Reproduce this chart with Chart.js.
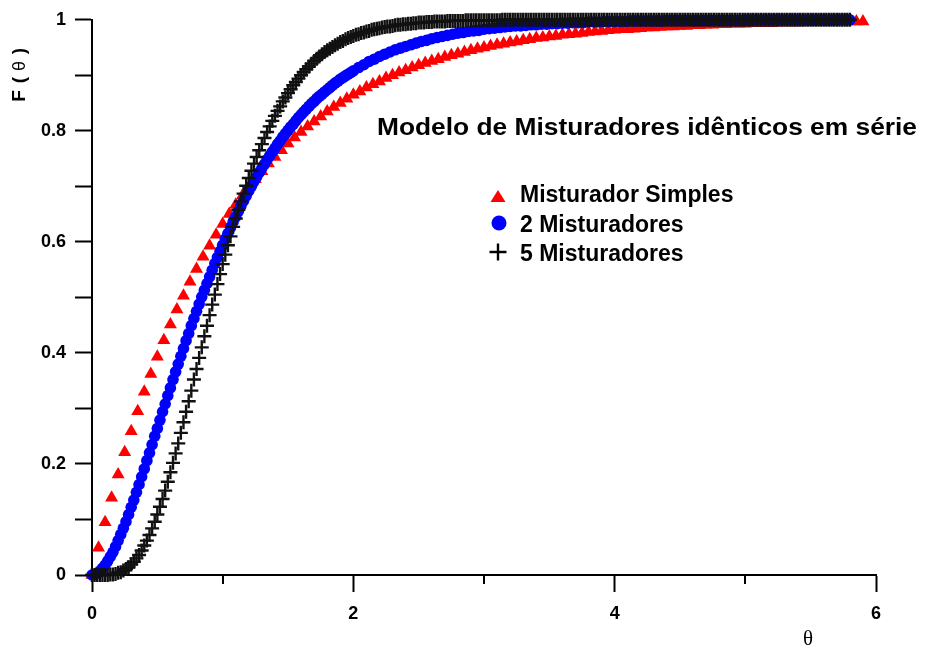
<!DOCTYPE html>
<html>
<head>
<meta charset="utf-8">
<title>Modelo de Misturadores idênticos em série</title>
<script src="https://cdn.jsdelivr.net/npm/chart.js@4.4.1/dist/chart.umd.min.js"></script>
<style>
    html, body { margin: 0; padding: 0; background: #fff; }
    #wrap { width: 928px; height: 652px; }
</style>
</head>
<body>
<div id="wrap"><canvas id="rtdChart" width="928" height="652"></canvas></div>
<script>
// DATA
const chartTitle = "Modelo de Misturadores idênticos em série";
const seriesNames = ["Misturador Simples", "2 Misturadores", "5 Misturadores"];
const xTickLabels = [0, 2, 4, 6];
const minorXTicks = [1, 3, 5];
const yTickLabels = [0, 0.2, 0.4, 0.6, 0.8, 1];

// single mixer, sampled every 0.05
const thetaSimple = [
    0,0.05,0.1,0.15,0.2,0.25,0.3,0.35,0.4,0.45,
    0.5,0.55,0.6,0.65,0.7,0.75,0.8,0.85,0.9,0.95,
    1,1.05,1.1,1.15,1.2,1.25,1.3,1.35,1.4,1.45,
    1.5,1.55,1.6,1.65,1.7,1.75,1.8,1.85,1.9,1.95,
    2,2.05,2.1,2.15,2.2,2.25,2.3,2.35,2.4,2.45,
    2.5,2.55,2.6,2.65,2.7,2.75,2.8,2.85,2.9,2.95,
    3,3.05,3.1,3.15,3.2,3.25,3.3,3.35,3.4,3.45,
    3.5,3.55,3.6,3.65,3.7,3.75,3.8,3.85,3.9,3.95,
    4,4.05,4.1,4.15,4.2,4.25,4.3,4.35,4.4,4.45,
    4.5,4.55,4.6,4.65,4.7,4.75,4.8,4.85,4.9,4.95,
    5,5.05,5.1,5.15,5.2,5.25,5.3,5.35,5.4,5.45,
    5.5,5.55,5.6,5.65,5.7,5.75,5.8,5.85,5.9
];
const fSimple = [
    0,0.049,0.095,0.139,0.181,0.221,0.259,0.295,0.330,0.362,
    0.393,0.423,0.451,0.478,0.503,0.528,0.551,0.573,0.593,0.613,
    0.632,0.650,0.667,0.683,0.699,0.713,0.727,0.741,0.753,0.765,
    0.777,0.788,0.798,0.808,0.817,0.826,0.835,0.843,0.850,0.858,
    0.865,0.871,0.878,0.884,0.889,0.895,0.900,0.905,0.909,0.914,
    0.918,0.922,0.926,0.929,0.933,0.936,0.939,0.942,0.945,0.948,
    0.950,0.953,0.955,0.957,0.959,0.961,0.963,0.965,0.967,0.968,
    0.970,0.971,0.973,0.974,0.975,0.976,0.978,0.979,0.980,0.981,
    0.982,0.983,0.983,0.984,0.985,0.986,0.986,0.987,0.988,0.988,
    0.989,0.989,0.990,0.990,0.991,0.991,0.992,0.992,0.993,0.993,
    0.993,0.994,0.994,0.994,0.994,0.995,0.995,0.995,0.995,0.996,
    0.996,0.996,0.996,0.996,0.997,0.997,0.997,0.997,0.997
];

// 2 mixers: every 0.02 up to 2, then every 0.04
const thetaTwo = [
    0,0.02,0.04,0.06,0.08,0.1,0.12,0.14,0.16,0.18,
    0.2,0.22,0.24,0.26,0.28,0.3,0.32,0.34,0.36,0.38,
    0.4,0.42,0.44,0.46,0.48,0.5,0.52,0.54,0.56,0.58,
    0.6,0.62,0.64,0.66,0.68,0.7,0.72,0.74,0.76,0.78,
    0.8,0.82,0.84,0.86,0.88,0.9,0.92,0.94,0.96,0.98,
    1,1.02,1.04,1.06,1.08,1.1,1.12,1.14,1.16,1.18,
    1.2,1.22,1.24,1.26,1.28,1.3,1.32,1.34,1.36,1.38,
    1.4,1.42,1.44,1.46,1.48,1.5,1.52,1.54,1.56,1.58,
    1.6,1.62,1.64,1.66,1.68,1.7,1.72,1.74,1.76,1.78,
    1.8,1.82,1.84,1.86,1.88,1.9,1.92,1.94,1.96,1.98,
    2,
    2.04,2.08,2.12,2.16,2.2,2.24,2.28,2.32,2.36,2.4,
    2.44,2.48,2.52,2.56,2.6,2.64,2.68,2.72,2.76,2.8,
    2.84,2.88,2.92,2.96,3,3.04,3.08,3.12,3.16,3.2,
    3.24,3.28,3.32,3.36,3.4,3.44,3.48,3.52,3.56,3.6,
    3.64,3.68,3.72,3.76,3.8,3.84,3.88,3.92,3.96,4,
    4.04,4.08,4.12,4.16,4.2,4.24,4.28,4.32,4.36,4.4,
    4.44,4.48,4.52,4.56,4.6,4.64,4.68,4.72,4.76,4.8,
    4.84,4.88,4.92,4.96,5,5.04,5.08,5.12,5.16,5.2,
    5.24,5.28,5.32,5.36,5.4,5.44,5.48,5.52,5.56,5.6,
    5.64,5.68,5.72,5.76,5.8
];
const fTwo = [
    0,0.001,0.003,0.007,0.012,0.018,0.025,0.033,0.041,0.051,
    0.062,0.073,0.084,0.096,0.109,0.122,0.135,0.149,0.163,0.177,
    0.191,0.206,0.220,0.235,0.250,0.264,0.279,0.294,0.308,0.323,
    0.337,0.352,0.366,0.380,0.394,0.408,0.422,0.435,0.449,0.462,
    0.475,0.488,0.501,0.513,0.525,0.537,0.549,0.561,0.572,0.583,
    0.594,0.605,0.615,0.626,0.636,0.645,0.655,0.665,0.674,0.683,
    0.692,0.700,0.709,0.717,0.725,0.733,0.740,0.748,0.755,0.762,
    0.769,0.776,0.782,0.789,0.795,0.801,0.807,0.812,0.818,0.824,
    0.829,0.834,0.839,0.844,0.849,0.853,0.858,0.862,0.866,0.870,
    0.874,0.878,0.882,0.886,0.889,0.893,0.896,0.899,0.902,0.905,
    0.908,
    0.914,0.919,0.925,0.929,0.934,0.938,0.942,0.946,0.949,0.952,
    0.955,0.958,0.961,0.963,0.966,0.968,0.970,0.972,0.974,0.976,
    0.977,0.979,0.980,0.981,0.983,0.984,0.985,0.986,0.987,0.988,
    0.989,0.989,0.990,0.991,0.991,0.992,0.992,0.993,0.993,0.994,
    0.994,0.995,0.995,0.995,0.996,0.996,0.996,0.997,0.997,0.997,
    0.997,0.997,0.998,0.998,0.998,0.998,0.998,0.998,0.998,0.999,
    0.999,0.999,0.999,0.999,0.999,0.999,0.999,0.999,0.999,0.999,
    0.999,0.999,0.999,0.999,1,1,1,1,1,1,
    1,1,1,1,1,1,1,1,1,1,
    1,1,1,1,1
];

// 5 mixers: every 0.02
const thetaFive = [
    0,0.02,0.04,0.06,0.08,0.1,0.12,0.14,0.16,0.18,
    0.2,0.22,0.24,0.26,0.28,0.3,0.32,0.34,0.36,0.38,
    0.4,0.42,0.44,0.46,0.48,0.5,0.52,0.54,0.56,0.58,
    0.6,0.62,0.64,0.66,0.68,0.7,0.72,0.74,0.76,0.78,
    0.8,0.82,0.84,0.86,0.88,0.9,0.92,0.94,0.96,0.98,
    1,1.02,1.04,1.06,1.08,1.1,1.12,1.14,1.16,1.18,
    1.2,1.22,1.24,1.26,1.28,1.3,1.32,1.34,1.36,1.38,
    1.4,1.42,1.44,1.46,1.48,1.5,1.52,1.54,1.56,1.58,
    1.6,1.62,1.64,1.66,1.68,1.7,1.72,1.74,1.76,1.78,
    1.8,1.82,1.84,1.86,1.88,1.9,1.92,1.94,1.96,1.98,
    2,2.02,2.04,2.06,2.08,2.1,2.12,2.14,2.16,2.18,
    2.2,2.22,2.24,2.26,2.28,2.3,2.32,2.34,2.36,2.38,
    2.4,2.42,2.44,2.46,2.48,2.5,2.52,2.54,2.56,2.58,
    2.6,2.62,2.64,2.66,2.68,2.7,2.72,2.74,2.76,2.78,
    2.8,2.82,2.84,2.86,2.88,2.9,2.92,2.94,2.96,2.98,
    3,3.02,3.04,3.06,3.08,3.1,3.12,3.14,3.16,3.18,
    3.2,3.22,3.24,3.26,3.28,3.3,3.32,3.34,3.36,3.38,
    3.4,3.42,3.44,3.46,3.48,3.5,3.52,3.54,3.56,3.58,
    3.6,3.62,3.64,3.66,3.68,3.7,3.72,3.74,3.76,3.78,
    3.8,3.82,3.84,3.86,3.88,3.9,3.92,3.94,3.96,3.98,
    4,4.02,4.04,4.06,4.08,4.1,4.12,4.14,4.16,4.18,
    4.2,4.22,4.24,4.26,4.28,4.3,4.32,4.34,4.36,4.38,
    4.4,4.42,4.44,4.46,4.48,4.5,4.52,4.54,4.56,4.58,
    4.6,4.62,4.64,4.66,4.68,4.7,4.72,4.74,4.76,4.78,
    4.8,4.82,4.84,4.86,4.88,4.9,4.92,4.94,4.96,4.98,
    5,5.02,5.04,5.06,5.08,5.1,5.12,5.14,5.16,5.18,
    5.2,5.22,5.24,5.26,5.28,5.3,5.32,5.34,5.36,5.38,
    5.4,5.42,5.44,5.46,5.48,5.5,5.52,5.54,5.56,5.58,
    5.6,5.62,5.64,5.66,5.68,5.7,5.72,5.74,5.76,5.78,
    5.8
];
const fFive = [
    0,0,0,0,0,0,0,0.001,0.001,0.002,
    0.004,0.005,0.008,0.011,0.014,0.019,0.024,0.030,0.036,0.044,
    0.053,0.062,0.072,0.084,0.096,0.109,0.123,0.137,0.152,0.168,
    0.185,0.202,0.219,0.237,0.256,0.275,0.294,0.313,0.332,0.352,
    0.371,0.391,0.410,0.430,0.449,0.468,0.487,0.505,0.524,0.542,
    0.560,0.577,0.594,0.610,0.627,0.642,0.658,0.673,0.687,0.701,
    0.715,0.728,0.741,0.753,0.765,0.776,0.787,0.798,0.808,0.818,
    0.827,0.836,0.844,0.853,0.860,0.868,0.875,0.882,0.888,0.894,
    0.900,0.906,0.911,0.916,0.921,0.926,0.930,0.934,0.938,0.942,
    0.945,0.948,0.951,0.954,0.957,0.960,0.962,0.965,0.967,0.969,
    0.971,0.973,0.974,0.976,0.977,0.979,0.980,0.982,0.983,0.984,
    0.985,0.986,0.987,0.988,0.988,0.989,0.990,0.991,0.991,0.992,
    0.992,0.993,0.993,0.994,0.994,0.995,0.995,0.995,0.996,0.996,
    0.996,0.997,0.997,0.997,0.997,0.997,0.998,0.998,0.998,0.998,
    0.998,0.998,0.998,0.999,0.999,0.999,0.999,0.999,0.999,0.999,
    0.999,0.999,0.999,0.999,0.999,0.999,0.999,1,1,1,
    1,1,1,1,1,1,1,1,1,1,
    1,1,1,1,1,1,1,1,1,1,
    1,1,1,1,1,1,1,1,1,1,
    1,1,1,1,1,1,1,1,1,1,
    1,1,1,1,1,1,1,1,1,1,
    1,1,1,1,1,1,1,1,1,1,
    1,1,1,1,1,1,1,1,1,1,
    1,1,1,1,1,1,1,1,1,1,
    1,1,1,1,1,1,1,1,1,1,
    1,1,1,1,1,1,1,1,1,1,
    1,1,1,1,1,1,1,1,1,1,
    1,1,1,1,1,1,1,1,1,1,
    1,1,1,1,1,1,1,1,1,1,
    1
];

const RED = '#ff0000';
const BLUE = '#0000ff';
const BLACK = '#111111';
const SANS = '"Liberation Sans", Arial, Helvetica, sans-serif';

function toPoints(xs, ys) {
    return xs.map((x, i) => ({ x: x, y: ys[i] }));
}

// LEGEND MARKERS
function drawTriangle(ctx, cx, cy, half, h) {
    ctx.beginPath();
    ctx.moveTo(cx, cy - h / 2);
    ctx.lineTo(cx + half, cy + h / 2);
    ctx.lineTo(cx - half, cy + h / 2);
    ctx.closePath();
    ctx.fillStyle = RED;
    ctx.fill();
}

function drawDot(ctx, cx, cy, r) {
    ctx.beginPath();
    ctx.arc(cx, cy, r, 0, Math.PI * 2);
    ctx.fillStyle = BLUE;
    ctx.fill();
}

function drawPlus(ctx, cx, cy, r) {
    ctx.beginPath();
    ctx.moveTo(cx - r, cy); ctx.lineTo(cx + r, cy);
    ctx.moveTo(cx, cy - r); ctx.lineTo(cx, cy + r);
    ctx.strokeStyle = '#000';
    ctx.lineWidth = 2.4;
    ctx.stroke();
}

// OVERLAY: minor ticks, title, legend, axis titles
const overlayPlugin = {
    id: 'overlay',
    afterDraw(chart) {
        const ctx = chart.ctx;
        const xs = chart.scales.x;
        const ys = chart.scales.y;
        ctx.save();

        // short minor ticks on the x axis
        ctx.strokeStyle = '#000';
        ctx.lineWidth = 2;
        minorXTicks.forEach(v => {
            const px = Math.round(xs.getPixelForValue(v));
            ctx.beginPath();
            ctx.moveTo(px, ys.bottom);
            ctx.lineTo(px, ys.bottom + 9);
            ctx.stroke();
        });

        // title inside plot
        ctx.fillStyle = '#000';
        ctx.textAlign = 'left';
        ctx.textBaseline = 'alphabetic';
        ctx.font = 'bold 23px ' + SANS;
        const tw = ctx.measureText(chartTitle).width;
        ctx.save();
        ctx.translate(377, 135);
        ctx.scale(540 / tw, 1);
        ctx.fillText(chartTitle, 0, 0);
        ctx.restore();

        // legend
        drawTriangle(ctx, 498, 196, 7.5, 12);
        drawDot(ctx, 499, 223, 7.5);
        drawPlus(ctx, 498, 252, 8.5);
        ctx.fillStyle = '#000';
        ctx.font = 'bold 23px ' + SANS;
        ctx.fillText(seriesNames[0], 520, 201.5);
        ctx.fillText(seriesNames[1], 520, 231.5);
        ctx.fillText(seriesNames[2], 520, 260.5);

        // x axis title
        ctx.font = '21px "Liberation Serif", "Times New Roman", serif';
        ctx.textAlign = 'center';
        ctx.textBaseline = 'middle';
        ctx.fillText('θ', 808, 639);

        // y axis title, rotated
        ctx.save();
        ctx.translate(20, 74);
        ctx.rotate(-Math.PI / 2);
        ctx.font = 'bold 19px ' + SANS;
        ctx.fillText('F', -22, 0);
        ctx.fillText('(', -6, 0);
        ctx.fillText(')', 23, 0);
        ctx.font = '18px ' + SANS;
        ctx.fillText('θ', 8, 0);
        ctx.restore();

        ctx.restore();
    }
};

// CHART
new Chart(document.getElementById('rtdChart'), {
    type: 'scatter',
    data: {
        datasets: [
            {
                label: seriesNames[0],
                data: toPoints(thetaSimple, fSimple),
                pointStyle: 'triangle',
                pointRadius: 7.5,
                pointBackgroundColor: RED,
                pointBorderColor: RED,
                pointBorderWidth: 0,
                order: 3,
                clip: false
            },
            {
                label: seriesNames[1],
                data: toPoints(thetaTwo, fTwo),
                pointStyle: 'circle',
                pointRadius: 5.8,
                pointBackgroundColor: BLUE,
                pointBorderColor: BLUE,
                pointBorderWidth: 0,
                order: 2,
                clip: false
            },
            {
                label: seriesNames[2],
                data: toPoints(thetaFive, fFive),
                pointStyle: 'cross',
                pointRadius: 7,
                pointBorderColor: BLACK,
                pointBorderWidth: 2.4,
                order: 1,
                clip: false
            }
        ]
    },
    options: {
        responsive: false,
        animation: false,
        events: [],
        layout: { padding: { top: 19, right: 52, left: 0, bottom: 0 } },
        plugins: { legend: { display: false }, tooltip: { enabled: false } },
        scales: {
            x: {
                type: 'linear',
                min: 0,
                max: 6,
                afterFit: s => { s.height = 77; },
                ticks: {
                    stepSize: 1,
                    autoSkip: false,
                    maxRotation: 0,
                    padding: 11,
                    color: '#000',
                    font: { family: SANS, size: 18, weight: 'bold' },
                    callback: v => xTickLabels.includes(v) ? String(v) : ''
                },
                grid: {
                    drawOnChartArea: false,
                    tickLength: 17,
                    tickWidth: 2,
                    tickColor: c => xTickLabels.includes(c.tick.value) ? '#000' : 'rgba(0,0,0,0)'
                },
                border: { display: true, color: '#000', width: 2 }
            },
            y: {
                type: 'linear',
                min: 0,
                max: 1,
                afterFit: s => { s.width = 92; },
                ticks: {
                    stepSize: 0.1,
                    autoSkip: false,
                    padding: 9,
                    color: '#000',
                    font: { family: SANS, size: 18, weight: 'bold' },
                    callback: v => {
                        const r = Math.round(v * 10) / 10;
                        return yTickLabels.includes(r) ? String(r) : '';
                    }
                },
                grid: {
                    drawOnChartArea: false,
                    tickLength: 17,
                    tickWidth: 2,
                    tickColor: '#000'
                },
                border: { display: true, color: '#000', width: 2 }
            }
        }
    },
    plugins: [overlayPlugin]
});
</script>
</body>
</html>
